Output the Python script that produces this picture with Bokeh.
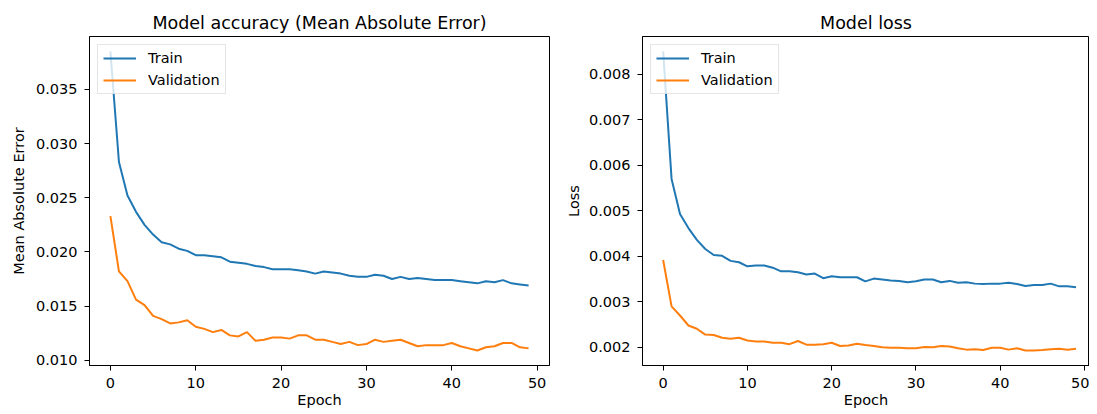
from bokeh.plotting import figure
from bokeh.layouts import row
from bokeh.models import FixedTicker, PrintfTickFormatter, Range1d
from bokeh.embed import file_html
from bokeh.resources import INLINE

epochs = list(range(50))

mae_train = [0.0385, 0.0283, 0.0252, 0.0237, 0.0225, 0.0216, 0.0209, 0.0207, 0.0203, 0.0201,
             0.0197, 0.0197, 0.0196, 0.0195, 0.0191, 0.0190, 0.0189, 0.0187, 0.0186, 0.0184,
             0.0184, 0.0184, 0.0183, 0.0182, 0.0180, 0.0182, 0.0181, 0.0180, 0.0178, 0.0177,
             0.0177, 0.0179, 0.0178, 0.0175, 0.0177, 0.0175, 0.0176, 0.0175, 0.0174, 0.0174,
             0.0174, 0.0173, 0.0172, 0.0171, 0.0173, 0.0172, 0.0174, 0.0171, 0.0170, 0.0169]
mae_val = [0.0233, 0.0182, 0.0173, 0.0156, 0.0151, 0.0141, 0.0138, 0.0134, 0.0135, 0.0137,
           0.0131, 0.0129, 0.0126, 0.0128, 0.0123, 0.0122, 0.0126, 0.0118, 0.0119, 0.0121,
           0.0121, 0.0120, 0.0123, 0.0123, 0.0119, 0.0119, 0.0117, 0.0115, 0.0117, 0.0114,
           0.0115, 0.0119, 0.0117, 0.0118, 0.0119, 0.0116, 0.0113, 0.0114, 0.0114, 0.0114,
           0.0116, 0.0113, 0.0111, 0.0109, 0.0112, 0.0113, 0.0116, 0.0116, 0.0112, 0.0111]
loss_train = [0.0085, 0.0057, 0.00493, 0.00462, 0.00436, 0.00416, 0.00403, 0.00401, 0.00390, 0.00387,
              0.00378, 0.00380, 0.00380, 0.00375, 0.00367, 0.00367, 0.00365, 0.00360, 0.00362, 0.00352,
              0.00356, 0.00354, 0.00354, 0.00354, 0.00345, 0.00351, 0.00349, 0.00347, 0.00346, 0.00343,
              0.00345, 0.00349, 0.00349, 0.00343, 0.00346, 0.00342, 0.00343, 0.00340, 0.00339, 0.00340,
              0.00340, 0.00342, 0.00339, 0.00335, 0.00337, 0.00337, 0.00340, 0.00334, 0.00334, 0.00332]
loss_val = [0.00392, 0.00290, 0.00270, 0.00248, 0.00241, 0.00228, 0.00227, 0.00221, 0.00219, 0.00221,
            0.00215, 0.00213, 0.00213, 0.00210, 0.00210, 0.00207, 0.00214, 0.00206, 0.00206, 0.00207,
            0.00210, 0.00203, 0.00204, 0.00208, 0.00205, 0.00203, 0.00200, 0.00199, 0.00199, 0.00198,
            0.00198, 0.00201, 0.00200, 0.00203, 0.00202, 0.00198, 0.00195, 0.00196, 0.00194, 0.00199,
            0.00199, 0.00195, 0.00198, 0.00193, 0.00193, 0.00194, 0.00196, 0.00197, 0.00195, 0.00197]

x_ticks = [0, 10, 20, 30, 40, 50]
mae_ticks = [0.010, 0.015, 0.020, 0.025, 0.030, 0.035]
loss_ticks = [0.002, 0.003, 0.004, 0.005, 0.006, 0.007, 0.008]

FONT = "DejaVu Sans"
BLUE = "#1f77b4"
ORANGE = "#ff7f0e"


def padded(values_a, values_b):
    lo = min(min(values_a), min(values_b))
    hi = max(max(values_a), max(values_b))
    m = 0.05 * (hi - lo)
    return lo - m, hi + m


def panel(title, ylabel, train, val, yticks, width, bl, br, x_end, ylab_standoff):
    ylo, yhi = padded(train, val)
    p = figure(width=width, height=410, output_backend="svg", toolbar_location=None,
               x_range=Range1d(-2.45, x_end), y_range=Range1d(ylo, yhi),
               min_border_left=bl, min_border_right=br, min_border_top=36,
               min_border_bottom=44, title=title)
    p.line(epochs, train, color=BLUE, line_width=2, legend_label="Train")
    p.line(epochs, val, color=ORANGE, line_width=2, legend_label="Validation")

    p.grid.visible = False
    p.background_fill_color = "white"
    p.border_fill_color = "white"
    p.outline_line_color = "black"
    p.outline_line_alpha = 1.0
    p.outline_line_width = 1

    p.title.align = "center"
    p.title.text_font = FONT
    p.title.text_font_style = "normal"
    p.title.text_font_size = "17.5px"
    p.title.text_color = "black"
    p.title.standoff = 8

    p.xaxis.ticker = FixedTicker(ticks=x_ticks)
    p.yaxis.ticker = FixedTicker(ticks=yticks)
    p.yaxis.formatter = PrintfTickFormatter(format="%.3f")
    p.xaxis.axis_label = "Epoch"
    p.yaxis.axis_label = ylabel
    for ax in (p.xaxis, p.yaxis):
        ax.axis_line_color = "black"
        ax.major_tick_line_color = "black"
        ax.major_tick_out = 5
        ax.major_tick_in = 0
        ax.minor_tick_line_color = None
        ax.major_label_text_font = FONT
        ax.major_label_text_font_size = "14.5px"
        ax.major_label_text_color = "black"
        ax.major_label_standoff = 7
        ax.axis_label_text_font = FONT
        ax.axis_label_text_font_size = "14.5px"
        ax.axis_label_text_font_style = "normal"
        ax.axis_label_text_color = "black"
    p.xaxis.major_label_standoff = 7
    p.xaxis.axis_label_standoff = 1
    p.yaxis.axis_label_standoff = ylab_standoff

    lg = p.legend[0]
    lg.location = "top_left"
    lg.margin = 8
    lg.padding = 5
    lg.spacing = 6
    lg.glyph_width = 33
    lg.glyph_height = 16
    lg.label_height = 16
    lg.label_standoff = 12
    lg.label_text_font = FONT
    lg.label_text_font_size = "14.5px"
    lg.label_text_color = "black"
    lg.border_line_color = "#cccccc"
    lg.border_line_width = 1
    lg.background_fill_color = "white"
    lg.background_fill_alpha = 0.8
    return p


p1 = panel("Model accuracy (Mean Absolute Error)", "Mean Absolute Error",
           mae_train, mae_val, mae_ticks, 560, 89, 11, 51.45, 6)
p2 = panel("Model loss", "Loss", loss_train, loss_val, loss_ticks, 529, 82, 0, 50.6, 4)

layout = row(p1, p2)
open("out.html", "w").write(file_html(layout, INLINE))
